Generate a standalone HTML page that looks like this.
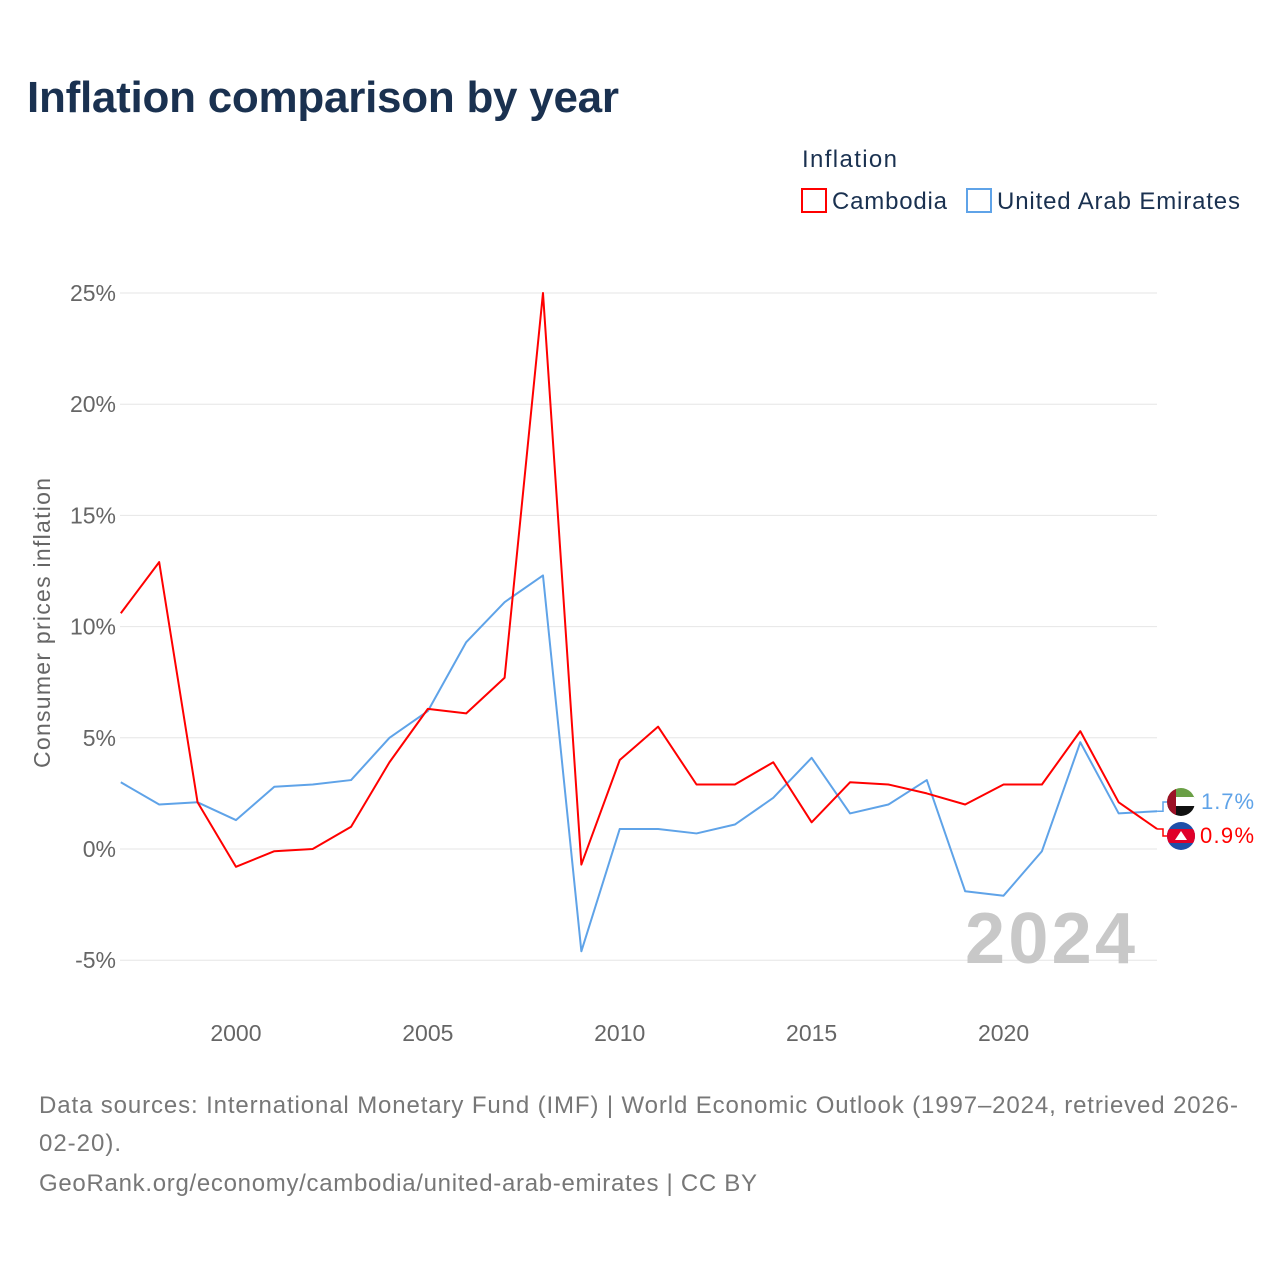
<!DOCTYPE html>
<html><head><meta charset="utf-8"><style>
body{margin:0;background:#fff;font-family:"Liberation Sans",sans-serif}
svg text{font-family:"Liberation Sans",sans-serif}
</style></head><body>
<svg width="1280" height="1280" xmlns="http://www.w3.org/2000/svg">
<text x="27" y="112" font-size="44" font-weight="bold" fill="#1a3150" textLength="592">Inflation comparison by year</text>
<g>
<text x="802" y="167" font-size="24" fill="#1a3150" textLength="95">Inflation</text>
<g><rect x="802" y="189" width="24" height="23" fill="none" stroke="#f00" stroke-width="2"/><text x="832" y="209" font-size="24" fill="#1a3150" textLength="115">Cambodia</text></g>
<g><rect x="967" y="189" width="24" height="23" fill="none" stroke="#5fa3e8" stroke-width="2"/><text x="997" y="209" font-size="24" fill="#1a3150" textLength="243">United Arab Emirates</text></g>
</g>
<g id="grid"></g>
<g id="yt"></g>
<g id="xt"></g>
<text transform="translate(50,623) rotate(-90)" text-anchor="middle" font-size="23" fill="#666" textLength="290">Consumer prices inflation</text>
<text x="965" y="963" font-size="72" font-weight="bold" fill="#c8c8c8" textLength="170">2024</text>
<g id="lines"></g>
<g>
<clipPath id="c1"><circle cx="1181" cy="802" r="14"/></clipPath>
<g clip-path="url(#c1)"><rect x="1167" y="788" width="28" height="10" fill="#6a9f45"/><rect x="1167" y="797" width="28" height="10" fill="#fff"/><rect x="1167" y="806" width="28" height="10" fill="#111"/><rect x="1167" y="788" width="9" height="28" fill="#9c1126"/></g></g>
<g>
<clipPath id="c2"><circle cx="1181" cy="836" r="14"/></clipPath>
<g clip-path="url(#c2)"><rect x="1167" y="822" width="28" height="28" fill="#1f4fa8"/><rect x="1167" y="829" width="28" height="14" fill="#e0002a"/><path d="M1175 840 L1181 831 L1187 840Z" fill="#fff"/></g></g>
<text x="1201" y="809" font-size="22" fill="#5fa3e8" textLength="53">1.7%</text>
<text x="1200" y="843" font-size="22" fill="#f00" textLength="54">0.9%</text>
<g font-size="24" fill="#777">
<text x="39" y="1113" textLength="1199">Data sources: International Monetary Fund (IMF) | World Economic Outlook (1997–2024, retrieved 2026-</text>
<text x="39" y="1151" textLength="82">02-20).</text>
<text x="39" y="1191" textLength="718">GeoRank.org/economy/cambodia/united-arab-emirates | CC BY</text>
</g>
</svg>
<script>
const years=[1997,1998,1999,2000,2001,2002,2003,2004,2005,2006,2007,2008,2009,2010,2011,2012,2013,2014,2015,2016,2017,2018,2019,2020,2021,2022,2023,2024];
const cambodia=[10.6,12.9,2.1,-0.8,-0.1,0.0,1.0,3.9,6.3,6.1,7.7,25.0,-0.7,4.0,5.5,2.9,2.9,3.9,1.2,3.0,2.9,2.5,2.0,2.9,2.9,5.3,2.1,0.9];
const uae=[3.0,2.0,2.1,1.3,2.8,2.9,3.1,5.0,6.2,9.3,11.1,12.3,-4.6,0.9,0.9,0.7,1.1,2.3,4.1,1.6,2.0,3.1,-1.9,-2.1,-0.1,4.8,1.6,1.7];
const yTicks=[-5,0,5,10,15,20,25];
const xTicks=[2000,2005,2010,2015,2020];
const X=y=>120.8+(y-1997)*38.38, Y=v=>849-v*22.24;
const NS="http://www.w3.org/2000/svg";
function mk(t,a,p){const e=document.createElementNS(NS,t);for(const k in a)e.setAttribute(k,a[k]);p.appendChild(e);return e;}
const g=document.getElementById('grid'),yt=document.getElementById('yt'),xt=document.getElementById('xt'),L=document.getElementById('lines');
yTicks.forEach(v=>{
 const l=mk('line',{x1:120,x2:1157,y1:Y(v),y2:Y(v),stroke:'#e6e6e6','stroke-width':1},g);
 
 
 const t=mk('text',{x:116,y:Y(v)+8,'text-anchor':'end','font-size':23,fill:'#666'},yt);
 t.textContent=v+'%';
 
 
});
xTicks.forEach(v=>{
 const t=mk('text',{x:X(v),y:1041,'text-anchor':'middle','font-size':23,fill:'#666'},xt);
 t.textContent=v;
 
 
});
function line(d,c,n){
 const p=mk('polyline',{points:d.map((v,i)=>X(years[i])+','+Y(v)).join(' '),fill:'none',stroke:c,'stroke-width':2,'stroke-linejoin':'round'},L);
 
 
}
line(uae,'#5fa3e8','uae-line');
line(cambodia,'#f00','cambodia-line');
const lastU=uae[uae.length-1],lastC=cambodia[cambodia.length-1];
const cu=mk('polyline',{points:`${X(2024)},${Y(lastU)} 1163,${Y(lastU)} 1163,802 1167,802`,fill:'none',stroke:'#5fa3e8','stroke-width':1.5},L);


const cc=mk('polyline',{points:`${X(2024)},${Y(lastC)} 1163,${Y(lastC)} 1163,836 1167,836`,fill:'none',stroke:'#f00','stroke-width':1.5},L);


</script>
</body></html>
